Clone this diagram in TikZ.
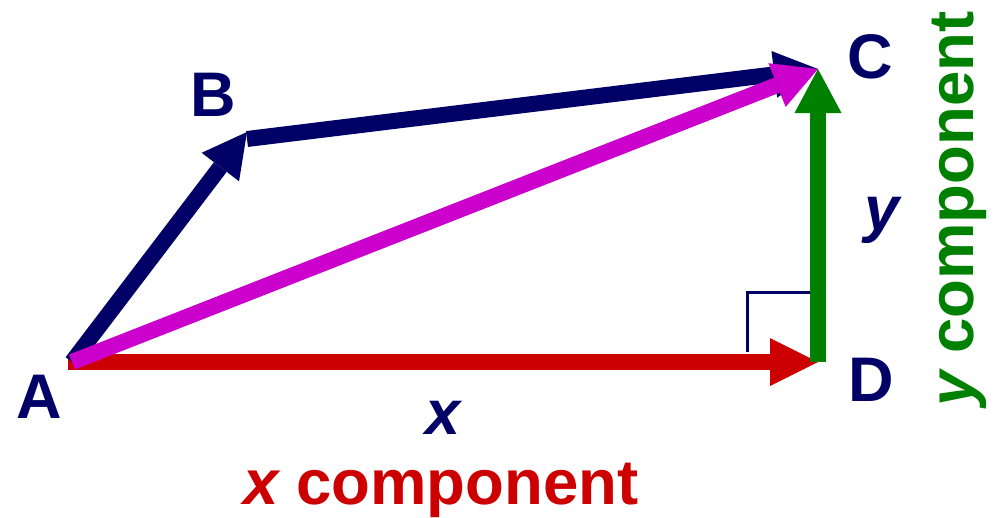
\documentclass[tikz,border=0pt]{standalone}
\usepackage{fontspec}
\setmainfont{Liberation Sans}
\usetikzlibrary{arrows.meta}
\definecolor{navy}{RGB}{0,0,102}
\definecolor{vred}{RGB}{204,0,0}
\definecolor{vgreen}{RGB}{0,128,0}
\definecolor{vmag}{RGB}{204,0,204}
\begin{document}
\begin{tikzpicture}[x=1pt,y=-1pt,
  vec/.style={line width=16pt, -{Triangle[length=44pt,width=47pt,line width=0pt]}},
  lbl/.style={font=\fontsize{63}{70}\selectfont\bfseries, text=navy, inner sep=0pt},
  comp/.style={font=\fontsize{63.5}{70}\selectfont\bfseries, inner sep=0pt, anchor=base}]
\useasboundingbox[fill=white] (0,0) rectangle (996,517);
\coordinate (A) at (72,362);
\coordinate (A0) at (68,362);
\coordinate (B) at (247,132);
\coordinate (B2) at (247,139);
\coordinate (C) at (818,69);
\coordinate (D) at (818,362);
\coordinate (R1) at (747,352);
\coordinate (R2) at (747,292);
\coordinate (R3) at (812,292);
% right angle mark
\draw[navy, line width=3pt] (R1) -- (R2) -- (R3);
% vectors
\draw[vec, vred, -{Triangle[length=48pt,width=48pt,line width=0pt]}] (A0) -- (D);
\draw[vec, vgreen] (D) -- (C);
\draw[vec, navy] (A) -- (B);
\draw[vec, navy] (B2) -- (C);
\draw[vec, vmag] (A) -- (C);
% labels
\node[lbl] (lA) at (39,397) {A};
\node[lbl] (lB) at (213,95) {B};
\node[lbl] (lC) at (870,57) {C};
\node[lbl] (lD) at (871,380) {D};
\node[lbl, font=\fontsize{63}{70}\selectfont\bfseries\itshape] (lx) at (443,418) {x};
\node[lbl, font=\fontsize{63}{70}\selectfont\bfseries\itshape] (ly) at (882,220) {y};
\node[comp, text=vred] (xc) at (441,504) {\itshape x\upshape\ component};
\node[comp, text=vgreen, rotate=90] (yc) at (973,209) {\itshape y\upshape\ component};
\end{tikzpicture}
\end{document}
